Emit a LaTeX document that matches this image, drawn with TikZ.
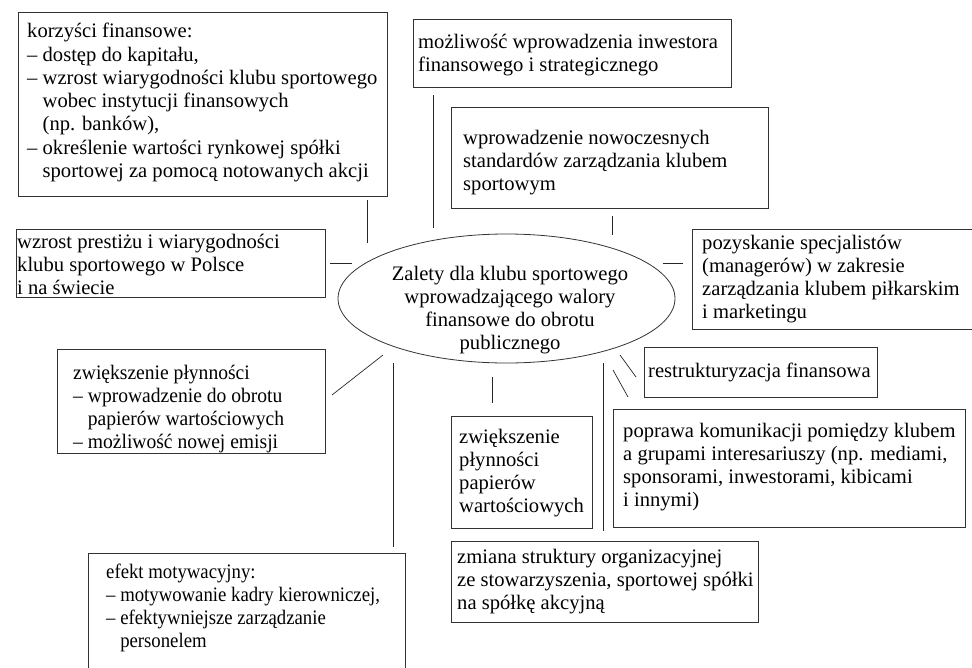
\documentclass[tikz,border=0pt]{standalone}
\usepackage{fontspec}
\setmainfont{Liberation Serif}
\usetikzlibrary{shapes.geometric}
\newcommand\ind{\hphantom{– }}
\begin{document}
\begin{tikzpicture}[x=1pt,y=-1pt,
  box/.style={draw=black!80, line width=0.8pt, anchor=north west, inner sep=0pt, rectangle},
  conn/.style={draw=black!85, line width=0.7pt},
  txt/.style={anchor=base west, inner sep=0pt, font=\fontsize{20.6}{23.3}\selectfont},
  ctxt/.style={anchor=base, inner sep=0pt, font=\fontsize{20.6}{23.3}\selectfont}]
\useasboundingbox (0,0) rectangle (972,667);
% boxes
\node[box, minimum width=369pt, minimum height=184pt] (b1) at (18,12) {};
\node[box, minimum width=309pt, minimum height=68pt] (b2) at (16,229) {};
\node[box, minimum width=318pt, minimum height=68pt] (b3) at (413,19) {};
\node[box, minimum width=317pt, minimum height=101pt] (b4) at (451,107) {};
\node[box, minimum width=300pt, minimum height=100pt] (b5) at (692,229) {};
\node[box, minimum width=233pt, minimum height=50pt] (b6) at (644,347) {};
\node[box, minimum width=352pt, minimum height=118pt] (b7) at (613,409) {};
\node[box, minimum width=307pt, minimum height=81pt] (b8) at (451,541) {};
\node[box, minimum width=141pt, minimum height=112pt] (b9) at (451,416) {};
\node[box, minimum width=268pt, minimum height=104pt] (b10) at (57,349) {};
\node[box, minimum width=317pt, minimum height=140pt] (b11) at (88,553) {};
\node[draw=black!80, line width=0.8pt, ellipse, inner sep=0pt, minimum width=337pt, minimum height=129pt] (e) at (506.5,298.5) {};
% texts
\node[txt] (t1) at (27,37.7) {\begin{tabular}[t]{@{}l@{}}korzyści finansowe:\\– dostęp do kapitału,\\– wzrost wiarygodności klubu sportowego\\\ind wobec instytucji finansowych\\\ind(np. banków),\\– określenie wartości rynkowej spółki\\\ind sportowej za pomocą notowanych akcji\end{tabular}};
\node[txt] (t2) at (17,248) {\begin{tabular}[t]{@{}l@{}}wzrost prestiżu i wiarygodności\\klubu sportowego w Polsce\\i na świecie\end{tabular}};
\node[txt] (t3) at (418,48) {\begin{tabular}[t]{@{}l@{}}możliwość wprowadzenia inwestora\\finansowego i strategicznego\end{tabular}};
\node[txt] (t4) at (463,144) {\begin{tabular}[t]{@{}l@{}}wprowadzenie nowoczesnych\\standardów zarządzania klubem\\sportowym\end{tabular}};
\node[txt] (t5) at (702,249) {\begin{tabular}[t]{@{}l@{}}pozyskanie specjalistów\\(managerów) w zakresie\\zarządzania klubem piłkarskim\\i marketingu\end{tabular}};
\node[txt] (t6) at (648,377) {restrukturyzacja finansowa};
\node[txt] (t7) at (623,437) {\begin{tabular}[t]{@{}l@{}}poprawa komunikacji pomiędzy klubem\\a grupami interesariuszy (np. mediami,\\sponsorami, inwestorami, kibicami\\i innymi)\end{tabular}};
\node[txt] (t8) at (457,563) {\begin{tabular}[t]{@{}l@{}}zmiana struktury organizacyjnej\\ze stowarzyszenia, sportowej spółki\\na spółkę akcyjną\end{tabular}};
\node[txt] (t9) at (459,443) {\begin{tabular}[t]{@{}l@{}}zwiększenie\\płynności\\papierów\\wartościowych\end{tabular}};
\node[txt] (t10) at (73,379) {\scalebox{0.95}[1]{\begin{tabular}[t]{@{}l@{}}zwiększenie płynności\\– wprowadzenie do obrotu\\\ind papierów wartościowych\\– możliwość nowej emisji\end{tabular}}};
\node[txt] (t11) at (106,578) {\scalebox{0.91}[1]{\begin{tabular}[t]{@{}l@{}}efekt motywacyjny:\\– motywowanie kadry kierowniczej,\\– efektywniejsze zarządzanie\\\ind personelem\end{tabular}}};
\node[ctxt] (te) at (510,280) {\begin{tabular}[t]{@{}c@{}}Zalety dla klubu sportowego\\wprowadzającego walory\\finansowe do obrotu\\publicznego\end{tabular}};
% connector end points
\coordinate (c1a) at (367,200); \coordinate (c1b) at (367,243);
\coordinate (c2a) at (330,263); \coordinate (c2b) at (352,263);
\coordinate (c3a) at (433,95);  \coordinate (c3b) at (433,228);
\coordinate (c4a) at (612,216); \coordinate (c4b) at (612,235);
\coordinate (c5a) at (663,263); \coordinate (c5b) at (683,263);
\coordinate (c6a) at (620,355); \coordinate (c6b) at (636,377);
\coordinate (c7a) at (613,370); \coordinate (c7b) at (628,397);
\coordinate (c8a) at (603,363); \coordinate (c8b) at (603,531);
\coordinate (c9a) at (492,377); \coordinate (c9b) at (492,403);
\coordinate (c10a) at (383,355); \coordinate (c10b) at (332,395);
\coordinate (c11a) at (393,363); \coordinate (c11b) at (393,547);
\foreach \i in {1,...,11} {\draw[conn] (c\i a) -- (c\i b);}
\end{tikzpicture}
\end{document}
